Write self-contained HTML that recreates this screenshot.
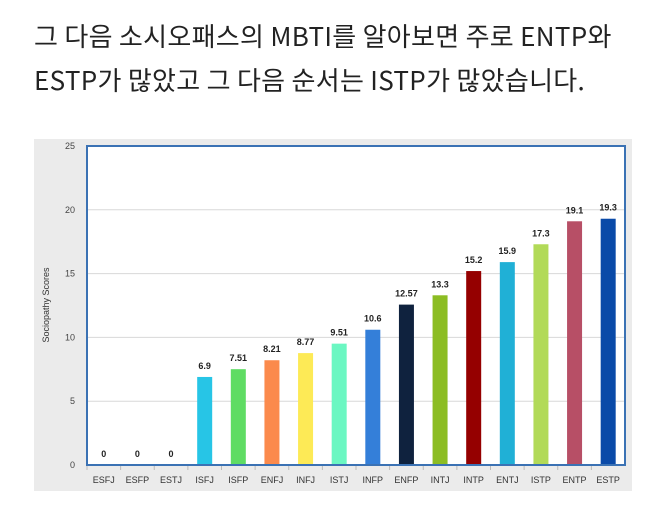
<!DOCTYPE html>
<html><head><meta charset="utf-8"><style>
body{margin:0;width:664px;height:508px;background:#fff;overflow:hidden;font-family:"Liberation Sans","Noto Sans CJK KR",sans-serif}
.t{position:absolute;left:34px;font-size:26px;color:#222;white-space:nowrap;font-family:"Noto Sans CJK KR","Liberation Sans",sans-serif;letter-spacing:0.3px}
svg{position:absolute;left:0;top:0}
</style></head><body>
<div class="t" style="top:17px">그 다음 소시오패스의 MBTI를 알아보면 주로 ENTP와</div>
<div class="t" style="top:61px">ESTP가 많았고 그 다음 순서는 ISTP가 많았습니다.</div>
<svg width="664" height="508">
<rect x="34" y="139" width="598" height="352" fill="#ebebeb"/>
<rect x="87" y="146" width="538" height="319" fill="#fff"/>
<g id="grid"></g><g id="bars"></g>
<rect x="87" y="146" width="538" height="319" fill="none" stroke="#3b72b4" stroke-width="2"/>
<text transform="translate(49,305) rotate(-90)" text-anchor="middle" font-size="9" fill="#333">Sociopathy Scores</text>
</svg>
<script>
const categories=["ESFJ","ESFP","ESTJ","ISFJ","ISFP","ENFJ","INFJ","ISTJ","INFP","ENFP","INTJ","INTP","ENTJ","ISTP","ENTP","ESTP"];
const values=[0,0,0,6.9,7.51,8.21,8.77,9.51,10.6,12.57,13.3,15.2,15.9,17.3,19.1,19.3];
const valueLabels=["0","0","0","6.9","7.51","8.21","8.77","9.51","10.6","12.57","13.3","15.2","15.9","17.3","19.1","19.3"];
const colors=["#2ec0e0","#2ec0e0","#2ec0e0","#27c5e6","#5fdc63","#fb8a4c","#fdea56","#6bf7c2","#347fd9","#0f223e","#8cbd23","#950000","#20b0d6","#b2da58","#b74f66","#0a4aa8"];
const yTicks=[0,5,10,15,20,25];
const X0=87,X1=625,Y0=465,Y1=146,YMAX=25;
const slot=(X1-X0)/categories.length;
const xs=i=>X0+slot*(i+0.5);
const ys=v=>Y0-(v/YMAX)*(Y0-Y1);
const NS="http://www.w3.org/2000/svg";
const grid=document.getElementById('grid'),bars=document.getElementById('bars');
function mk(tag,attrs,parent,txt){const e=document.createElementNS(NS,tag);for(const k in attrs)e.setAttribute(k,attrs[k]);if(txt!==undefined)e.textContent=txt;parent.appendChild(e);return e;}
yTicks.forEach(t=>{
  if(t>0&&t<YMAX){const l=mk('line',{x1:X0,x2:X1,y1:ys(t),y2:ys(t),stroke:'#d8d8d8','stroke-width':1},grid);
  
  }
  const tx=mk('text',{x:X0-12,y:ys(t)+3,'text-anchor':'end','font-size':9,fill:'#444'},grid,String(t));
  
  
});
categories.forEach((c,i)=>{
  const bw=15,v=values[i];
  const b=mk('rect',{x:xs(i)-bw/2,y:ys(v),width:bw,height:Y0-ys(v),fill:colors[i]},bars);
  
  
  const vl=mk('text',{x:xs(i),y:ys(v)-8,'text-anchor':'middle','font-size':9,'font-weight':'bold',fill:'#222'},bars,valueLabels[i]);
  
  
  const xl=mk('text',{x:xs(i),y:483,'text-anchor':'middle','font-size':9,fill:'#333'},bars,c);
  
  
  const tk=mk('line',{x1:X0+slot*i,x2:X0+slot*i,y1:Y0,y2:Y0+5,stroke:'#bbb'},bars);
  
  
});
</script>
</body></html>
